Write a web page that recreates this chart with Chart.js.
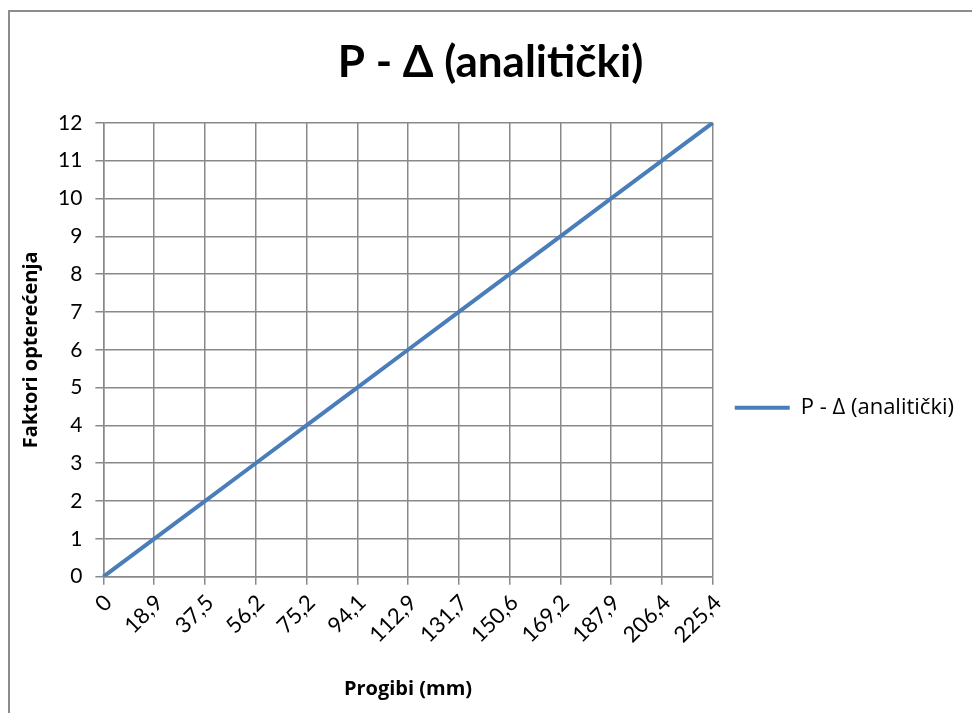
<!DOCTYPE html>
<html lang="hr">
<head>
    <meta charset="UTF-8">
    <title>P - Δ (analitički)</title>
    <script src="https://cdn.jsdelivr.net/npm/chart.js"></script>
    <style>
        html, body { margin: 0; padding: 0; background: #ffffff; }
        .wrap { width: 972px; height: 713px; }
    </style>
</head>
<body>
    <div class="wrap"><canvas id="pdChart" width="972" height="713"></canvas></div>

    <script>
        // Podaci s grafa
        const deflections = ['0', '18,9', '37,5', '56,2', '75,2', '94,1', '112,9', '131,7', '150,6', '169,2', '187,9', '206,4', '225,4'];
        const loadFactors = [0, 1, 2, 3, 4, 5, 6, 7, 8, 9, 10, 11, 12];
        const seriesName = 'P - Δ (analitički)';

        const gridColor = '#898989';
        const fontFamily = 'Lato, "Open Sans", sans-serif';
        const wideFont = '"Open Sans", Lato, sans-serif';

        // okvir oko cijelog grafa (kao u Excelu)
        const frame = {
            id: 'frame',
            beforeDraw(chart) {
                const c = chart.ctx;
                c.save();
                c.fillStyle = '#ffffff';
                c.fillRect(0, 0, chart.width, chart.height);
                c.strokeStyle = '#8c8c8c';
                c.lineWidth = 2;
                c.strokeRect(9, 11, chart.width + 20, chart.height + 20);
                c.restore();
            }
        };

        Chart.defaults.font.family = fontFamily;
        Chart.defaults.color = '#000000';

        new Chart(document.getElementById('pdChart'), {
            type: 'line',
            data: {
                labels: deflections,
                datasets: [{
                    label: seriesName,
                    data: loadFactors,
                    borderColor: '#4a7ebb',
                    backgroundColor: '#4a7ebb',
                    borderWidth: 4,
                    pointRadius: 0,
                    tension: 0
                }]
            },
            options: {
                responsive: false,
                animation: false,
                layout: { padding: { left: 17, right: 8, top: 36, bottom: 8 } },
                plugins: {
                    title: {
                        display: true,
                        text: seriesName,
                        font: { size: 44, weight: 'bold' },
                        padding: { top: 0, bottom: 34 }
                    },
                    legend: {
                        position: 'right',
                        maxWidth: 400,
                        // prazan naslov samo spušta legendu prema sredini
                        title: { display: true, text: '', font: { size: 12 }, padding: { top: 0, bottom: 60 } },
                        labels: {
                            usePointStyle: true,
                            pointStyle: 'line',
                            pointStyleWidth: 55,
                            font: { size: 22, family: wideFont },
                            padding: 22
                        }
                    },
                    tooltip: { enabled: false }
                },
                scales: {
                    x: {
                        offset: false,
                        grid: { color: gridColor, lineWidth: 1.5, tickLength: 8 },
                        border: { color: gridColor, width: 1.5 },
                        ticks: { font: { size: 22 }, minRotation: 45, maxRotation: 45, padding: 5, labelOffset: 5, autoSkip: false },
                        title: {
                            display: true,
                            text: 'Progibi (mm)',
                            font: { size: 20, weight: 'bold', family: wideFont },
                            padding: { top: 24, bottom: 4 }
                        }
                    },
                    y: {
                        min: 0,
                        max: 12,
                        grid: { color: gridColor, lineWidth: 1.5, tickLength: 8 },
                        border: { color: gridColor, width: 1.5 },
                        ticks: { stepSize: 1, font: { size: 21 }, padding: 13 },
                        title: {
                            display: true,
                            text: 'Faktori opterećenja',
                            font: { size: 20, weight: 'bold', family: wideFont },
                            padding: { top: 2, bottom: 2 }
                        }
                    }
                }
            },
            plugins: [frame]
        });
    </script>
</body>
</html>
